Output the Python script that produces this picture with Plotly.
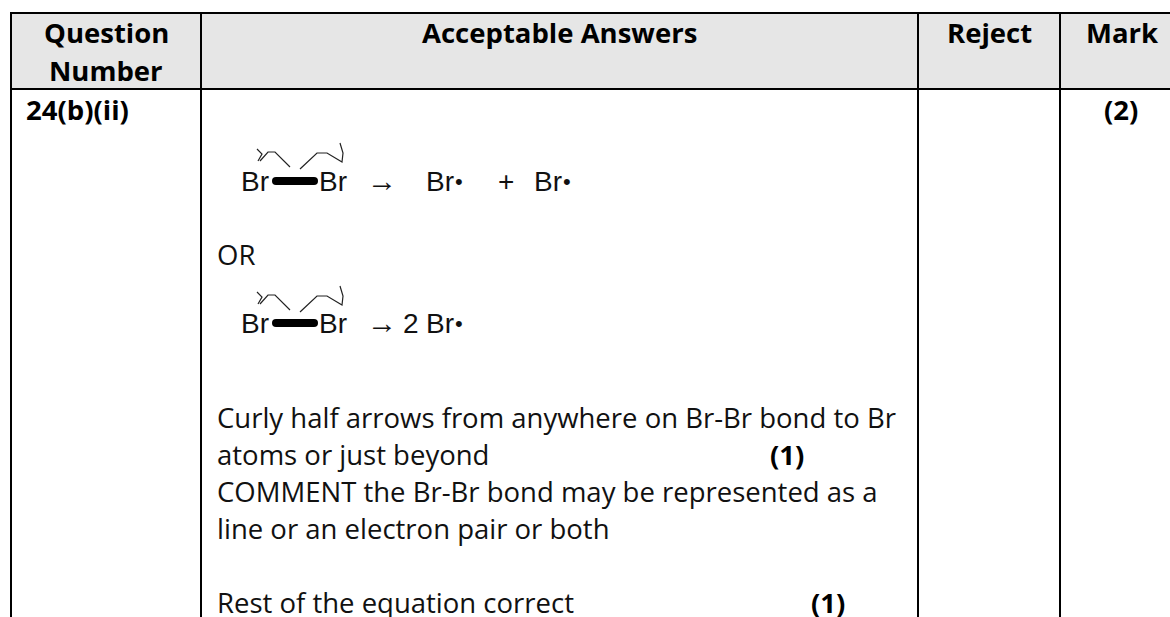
import plotly.graph_objects as go

W, H = 1170, 617
FONT = "Open Sans"
CHEM = "Liberation Sans"
BODY = 27.5

headers = ["Question", "Number", "Acceptable Answers", "Reject", "Mark"]
header_x = [106, 106, 559, 989, 1122]
header_y = [32, 70, 32, 32, 32]

question = "24(b)(ii)"
mark = "(2)"

answer_lines = [
    "Curly half arrows from anywhere on Br-Br bond to Br",
    "atoms or just beyond",
    "COMMENT the Br-Br bond may be represented as a",
    "line or an electron pair or both",
    "Rest of the equation correct",
]
answer_y = [417, 454, 491, 528, 602]
part_marks = ["(1)", "(1)"]
part_mark_x = [769, 810]
part_mark_y = [454, 602]

# vertical rules, header band
col_x = [11, 201, 918, 1060]
top_y, head_y = 13, 89

# curly arrows, traced in px over the first equation
left_arrow_x = [290, 275, 268, 260]
left_arrow_y = [167, 152, 152, 161]
left_barb_x = [257, 262, 258]
left_barb_y = [149, 154, 161]
right_arrow_x = [300, 317, 327, 342, 343, 340]
right_arrow_y = [169, 153, 153, 162, 153, 143]
eq_y = [181, 323]
eq_arrow_dy = [0, 1]

fig = go.Figure()

shapes = [dict(type="rect", x0=col_x[0], x1=W + 5, y0=top_y, y1=head_y,
               fillcolor="#e6e6e6", line_width=0, layer="below")]
for x in col_x:
    shapes.append(dict(type="line", x0=x, x1=x, y0=top_y - 1, y1=H + 5,
                       line=dict(color="black", width=2)))
for y in [top_y, head_y]:
    shapes.append(dict(type="line", x0=col_x[0] - 1, x1=W + 5, y0=y, y1=y,
                       line=dict(color="black", width=2)))

ann = []


def put(x, y, text, size=BODY, family=FONT, anchor="left", color="#111"):
    ann.append(dict(x=x, y=y, text=text, showarrow=False, xanchor=anchor, yanchor="middle",
                    align="center", font=dict(family=family, size=size, color=color),
                    borderpad=0))


for text, x, y in zip(headers, header_x, header_y):
    put(x, y, "<b>" + text + "</b>", anchor="center", color="#000")
put(25, 109, "<b>" + question + "</b>", color="#000")
put(1121, 109, "<b>" + mark + "</b>", anchor="center", color="#000")
put(216, 254, "OR")
for text, y in zip(answer_lines, answer_y):
    put(216, y, text)
for text, x, y in zip(part_marks, part_mark_x, part_mark_y):
    put(x, y, "<b>" + text + "</b>", color="#000")

# the two bromine equations
for y, dy in zip(eq_y, eq_arrow_dy):
    t, b, l, r = y - 4, y + 4, 272, 318
    bond = (f"M {l + 4},{t} L {r - 4},{t} Q {r},{t} {r},{y} Q {r},{b} {r - 4},{b} "
            f"L {l + 4},{b} Q {l},{b} {l},{y} Q {l},{t} {l + 4},{t} Z")
    shapes.append(dict(type="path", path=bond, fillcolor="black", line_width=0))
    for xs, ys in [(left_arrow_x, left_arrow_y), (left_barb_x, left_barb_y),
                   (right_arrow_x, right_arrow_y)]:
        path = "M " + " L ".join(f"{a},{c + (y - eq_y[0]) + dy}" for a, c in zip(xs, ys))
        shapes.append(dict(type="path", path=path, line=dict(color="#222", width=1.2)))
    put(240, y, "Br", size=28, family=CHEM)
    put(318, y, "Br", size=28, family=CHEM)
    put(366, y - 1, "→", size=30, family=CHEM)

put(425, eq_y[0], "Br", size=28, family=CHEM)
put(454, eq_y[0], "•", size=22, family=CHEM)
put(497, eq_y[0], "+", size=28, family=CHEM)
put(533, eq_y[0], "Br", size=28, family=CHEM)
put(562, eq_y[0], "•", size=22, family=CHEM)
put(402, eq_y[1], "2", size=28, family=CHEM)
put(425, eq_y[1], "Br", size=28, family=CHEM)
put(454, eq_y[1], "•", size=22, family=CHEM)

fig.update_layout(
    width=W, height=H, margin=dict(l=0, r=0, t=0, b=0),
    paper_bgcolor="white", plot_bgcolor="white", showlegend=False,
    shapes=shapes, annotations=ann,
    xaxis=dict(range=[0, W], visible=False, fixedrange=True),
    yaxis=dict(range=[H, 0], visible=False, fixedrange=True),
)
fig.write_html("out.html", config=dict(displayModeBar=False),
               post_script="document.body.style.margin='0';")
